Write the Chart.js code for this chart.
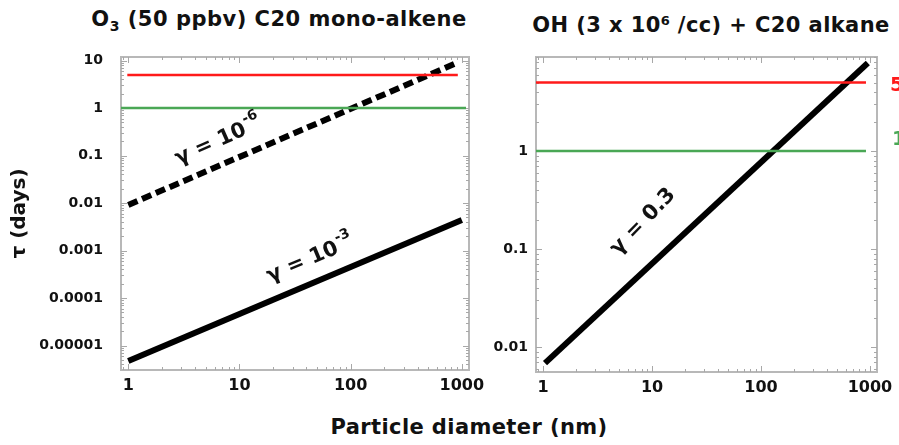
<!DOCTYPE html>
<html>
<head>
<meta charset="utf-8">
<script src="https://cdn.jsdelivr.net/npm/chart.js@4.4.1/dist/chart.umd.min.js"></script>
<style>
  body { margin: 0; background: #fff; width: 899px; height: 445px; position: relative; overflow: hidden;
         font-family: "DejaVu Sans", sans-serif; color: #111; }
  .t { position: absolute; font-weight: bold; white-space: nowrap; text-align: center; }
  canvas { position: absolute; top: 0; }
  #c1 { left: 0; }
  #c2 { left: 480px; }
</style>
</head>
<body>
<div class="t" style="left:79px;top:6px;width:400px;font-size:21px;line-height:26px;letter-spacing:0.5px">O<span style="font-size:14px;position:relative;top:5px">3</span> (50 ppbv) C20 mono-alkene</div>
<div class="t" style="left:511px;top:12px;width:400px;font-size:21px;line-height:26px;letter-spacing:0.4px">OH (3 x 10<span style="font-size:13px;position:relative;top:-7px">6</span> /cc) + C20 alkane</div>
<div class="t" style="left:269px;top:414px;width:400px;font-size:21px;line-height:26px;letter-spacing:0.4px">Particle diameter (nm)</div>
<canvas id="c1" width="500" height="400"></canvas>
<canvas id="c2" width="419" height="400"></canvas>
<script>
// particle diameter (nm) vs lifetime tau (days)
const o3Gamma6D = [1, 900];
const o3Gamma6Tau = [0.0091, 8.9];
const o3Gamma3D = [1, 1000];
const o3Gamma3Tau = [4.7e-6, 0.0044];
const ohGammaD = [1.04, 955];
const ohGammaTau = [0.0069, 7.9];

// reference lifetimes (days): 5 days red, 1 day green
const refDays = [5, 1];
const o3RefD = [[0.98, 920], [0.86, 1090]];
const ohRefD = [[0.86, 919], [0.86, 919]];

const xTicks = [1, 10, 100, 1000];
const xTickLabels = ['1', '10', '100', '1000'];
const o3YTicks = [10, 1, 0.1, 0.01, 0.001, 0.0001, 0.00001];
const o3YTickLabels = ['10', '1', '0.1', '0.01', '0.001', '0.0001', '0.00001'];
const ohYTicks = [1, 0.1, 0.01];
const ohYTickLabels = ['1', '0.1', '0.01'];

const refColors = ['#ff1a1a', '#4aa755'];
const FONT = '"DejaVu Sans", sans-serif';

function pts(xs, ys) {
    return xs.map((x, i) => ({ x: x, y: ys[i] }));
}

// frame, minor ticks, rotated labels
const decor = {
    id: 'decor',
    beforeDatasetsDraw(chart, args, opts) {
        const ctx = chart.ctx;
        const a = chart.chartArea;
        const xs = chart.scales.x, ys = chart.scales.y;
        ctx.save();
        ctx.strokeStyle = '#b8b8b8';
        ctx.lineWidth = 2;
        ctx.strokeRect(a.left, a.top, a.right - a.left, a.bottom - a.top);
        ctx.lineWidth = 1;
        ctx.strokeStyle = '#a8a8a8';
        ctx.beginPath();
        for (let e = -7; e <= 4; e++) {
            for (let k = 1; k <= 9; k++) {
                const v = k * Math.pow(10, e);
                const len = k === 1 ? 6 : 3;
                if (v >= xs.min && v <= xs.max) {
                    const px = Math.round(xs.getPixelForValue(v)) + 0.5;
                    ctx.moveTo(px, a.bottom); ctx.lineTo(px, a.bottom - len);
                    ctx.moveTo(px, a.top); ctx.lineTo(px, a.top + len);
                }
                if (v >= ys.min && v <= ys.max) {
                    const py = Math.round(ys.getPixelForValue(v)) + 0.5;
                    ctx.moveTo(a.left, py); ctx.lineTo(a.left + len, py);
                    ctx.moveTo(a.right, py); ctx.lineTo(a.right - len, py);
                }
            }
        }
        ctx.stroke();
        ctx.restore();
    },
    afterDatasetsDraw(chart, args, opts) {
        const ctx = chart.ctx;
        const xs = chart.scales.x, ys = chart.scales.y;
        ctx.save();
        ctx.fillStyle = '#111';
        (opts.notes || []).forEach(n => {
            const px = xs.getPixelForValue(n.x), py = ys.getPixelForValue(n.y);
            ctx.font = 'bold 21px ' + FONT;
            const w1 = ctx.measureText(n.text).width;
            ctx.font = 'bold 14px ' + FONT;
            const w2 = n.sup ? ctx.measureText(n.sup).width : 0;
            ctx.translate(px, py);
            ctx.rotate(n.angle * Math.PI / 180);
            ctx.textBaseline = 'middle';
            ctx.textAlign = 'left';
            ctx.font = 'bold 21px ' + FONT;
            ctx.fillText(n.text, -(w1 + w2) / 2, 0);
            if (n.sup) {
                ctx.font = 'bold 14px ' + FONT;
                ctx.fillText(n.sup, -(w1 + w2) / 2 + w1 + 1, -9);
            }
            ctx.setTransform(1, 0, 0, 1, 0, 0);
        });
        (opts.sideLabels || []).forEach(s => {
            ctx.font = 'bold 20px ' + FONT;
            ctx.fillStyle = s.color;
            ctx.textAlign = 'left';
            ctx.textBaseline = 'middle';
            ctx.fillText(s.text, s.px, ys.getPixelForValue(s.y) + s.dy);
        });
        ctx.restore();
    }
};

function makeChart(id, cfg) {
    const datasets = cfg.refD.map((r, i) => ({
        data: pts(r, [refDays[i], refDays[i]]),
        borderColor: refColors[i],
        borderWidth: 2.5,
        pointRadius: 0
    })).concat(cfg.lines.map(l => ({
        data: pts(l.d, l.tau),
        borderColor: '#000',
        borderWidth: 6,
        borderDash: l.dash || [],
        borderCapStyle: 'butt',
        pointRadius: 0
    })));

    return new Chart(document.getElementById(id), {
        type: 'line',
        data: { datasets: datasets },
        plugins: [decor],
        options: {
            responsive: false,
            animation: false,
            layout: { padding: cfg.padding },
            plugins: {
                legend: { display: false },
                tooltip: { enabled: false },
                decor: { notes: cfg.notes, sideLabels: cfg.sideLabels || [] }
            },
            scales: {
                x: {
                    type: 'logarithmic',
                    bounds: 'data',
                    min: 0.86,
                    max: 1160,
                    grid: { display: false, drawTicks: false },
                    border: { display: false },
                    afterBuildTicks: s => { s.ticks = xTicks.map(v => ({ value: v })); },
                    afterFit: s => { s.height = cfg.xHeight; },
                    ticks: {
                        autoSkip: false, maxRotation: 0, padding: 6,
                        color: '#111',
                        font: { family: FONT, size: 16, weight: 'bold' },
                        callback: (v, i) => xTickLabels[i]
                    }
                },
                y: {
                    type: 'logarithmic',
                    bounds: 'data',
                    min: cfg.yMin,
                    max: cfg.yMax,
                    grid: { display: false, drawTicks: false },
                    border: { display: false },
                    afterBuildTicks: s => { s.ticks = cfg.yTicks.map(v => ({ value: v })); },
                    afterFit: s => { s.width = cfg.yWidth; },
                    title: cfg.yTitle ? {
                        display: true, text: 'τ (days)', color: '#111',
                        font: { family: FONT, size: 20, weight: 'bold' },
                        padding: { top: 8, bottom: 0 }
                    } : { display: false },
                    ticks: {
                        autoSkip: false, padding: cfg.yPad,
                        color: '#111',
                        font: { family: FONT, size: 14, weight: 'bold' },
                        callback: (v, i) => cfg.yTickLabels[i]
                    }
                }
            }
        }
    });
}

makeChart('c1', {
    refD: o3RefD,
    lines: [
        { d: o3Gamma6D, tau: o3Gamma6Tau, dash: [10, 5] },
        { d: o3Gamma3D, tau: o3Gamma3Tau }
    ],
    yMin: 3.05e-6, yMax: 11.9,
    yTicks: o3YTicks, yTickLabels: o3YTickLabels,
    yWidth: 121, yPad: 18, yTitle: true,
    xHeight: 30,
    padding: { top: 57, right: 31, left: 0, bottom: 0 },
    notes: [
        { x: 6.4, y: 0.2, angle: -24, text: 'γ = 10', sup: '-6' },
        { x: 43, y: 6.5e-4, angle: -23, text: 'γ = 10', sup: '-3' }
    ]
});

makeChart('c2', {
    refD: ohRefD,
    lines: [
        { d: ohGammaD, tau: ohGammaTau }
    ],
    yMin: 0.0056, yMax: 9.1,
    yTicks: ohYTicks, yTickLabels: ohYTickLabels,
    yWidth: 56, yPad: 8, yTitle: false,
    xHeight: 28,
    padding: { top: 57, right: 22, left: 0, bottom: 0 },
    notes: [
        { x: 8.3, y: 0.19, angle: -46, text: 'γ = 0.3' }
    ],
    sideLabels: [
        { text: '5', y: refDays[0], dy: 3, px: 410, color: refColors[0] },
        { text: '1', y: refDays[1], dy: -11, px: 412, color: refColors[1] }
    ]
});
</script>
</body>
</html>
